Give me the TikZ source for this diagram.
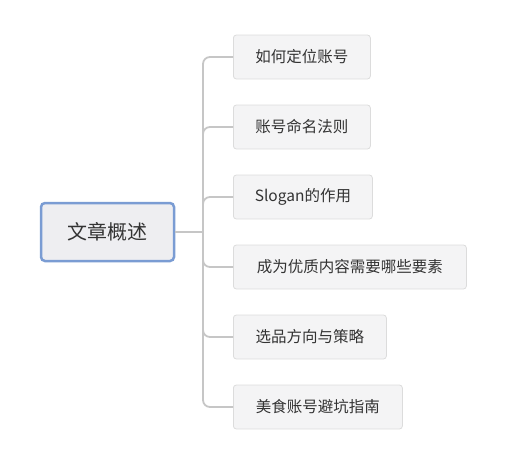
\documentclass[tikz,border=0pt]{standalone}
\usepackage{fontspec}
\setmainfont{Noto Sans CJK SC}
\definecolor{rootfill}{HTML}{EEEEF1}
\definecolor{rootdraw}{HTML}{7A9CD3}
\definecolor{kidfill}{HTML}{F4F4F5}
\definecolor{kiddraw}{HTML}{DCDCDC}
\definecolor{linecol}{HTML}{C6C6C6}
\definecolor{txt}{HTML}{333333}
\begin{document}
\begin{tikzpicture}[x=1pt,y=-1pt,
  rootbox/.style={draw=rootdraw,line width=2.5pt,fill=rootfill,rounded corners=4pt,
    minimum width=133pt,minimum height=58pt,inner sep=0pt,text=txt,
    font=\fontsize{20pt}{24pt}\selectfont},
  kidbox/.style={draw=kiddraw,line width=0.8pt,fill=kidfill,rounded corners=3pt,
    minimum height=44pt,inner xsep=20.5pt,inner ysep=0pt,anchor=west,text=txt,
    font=\fontsize{15.5pt}{18pt}\selectfont},
  conn/.style={draw=linecol,line width=1.8pt,rounded corners=7pt}]
\useasboundingbox (0,0) rectangle (516,463);
\node[rootbox] (root) at (107.5,232) {文章概述};
\node[kidbox,minimum width=137pt] (k1) at (233,57) {如何定位账号};
\node[kidbox,minimum width=137pt] (k2) at (233,127) {账号命名法则};
\node[kidbox,minimum width=139pt] (k3) at (233,197) {Slogan的作用};
\node[kidbox,minimum width=233pt] (k4) at (233,267) {成为优质内容需要哪些要素};
\node[kidbox,minimum width=153pt] (k5) at (233,337) {选品方向与策略};
\node[kidbox,minimum width=169pt] (k6) at (233,407) {美食账号避坑指南};
\coordinate (hub) at (203,232);
\begin{scope}[on background layer/.try]
\draw[conn] (root.east) -- (hub);
\foreach \k in {k1,k2,k3,k4,k5,k6}{
  \draw[conn] (hub) |- (\k.west);
}
\end{scope}
\end{tikzpicture}
\end{document}
